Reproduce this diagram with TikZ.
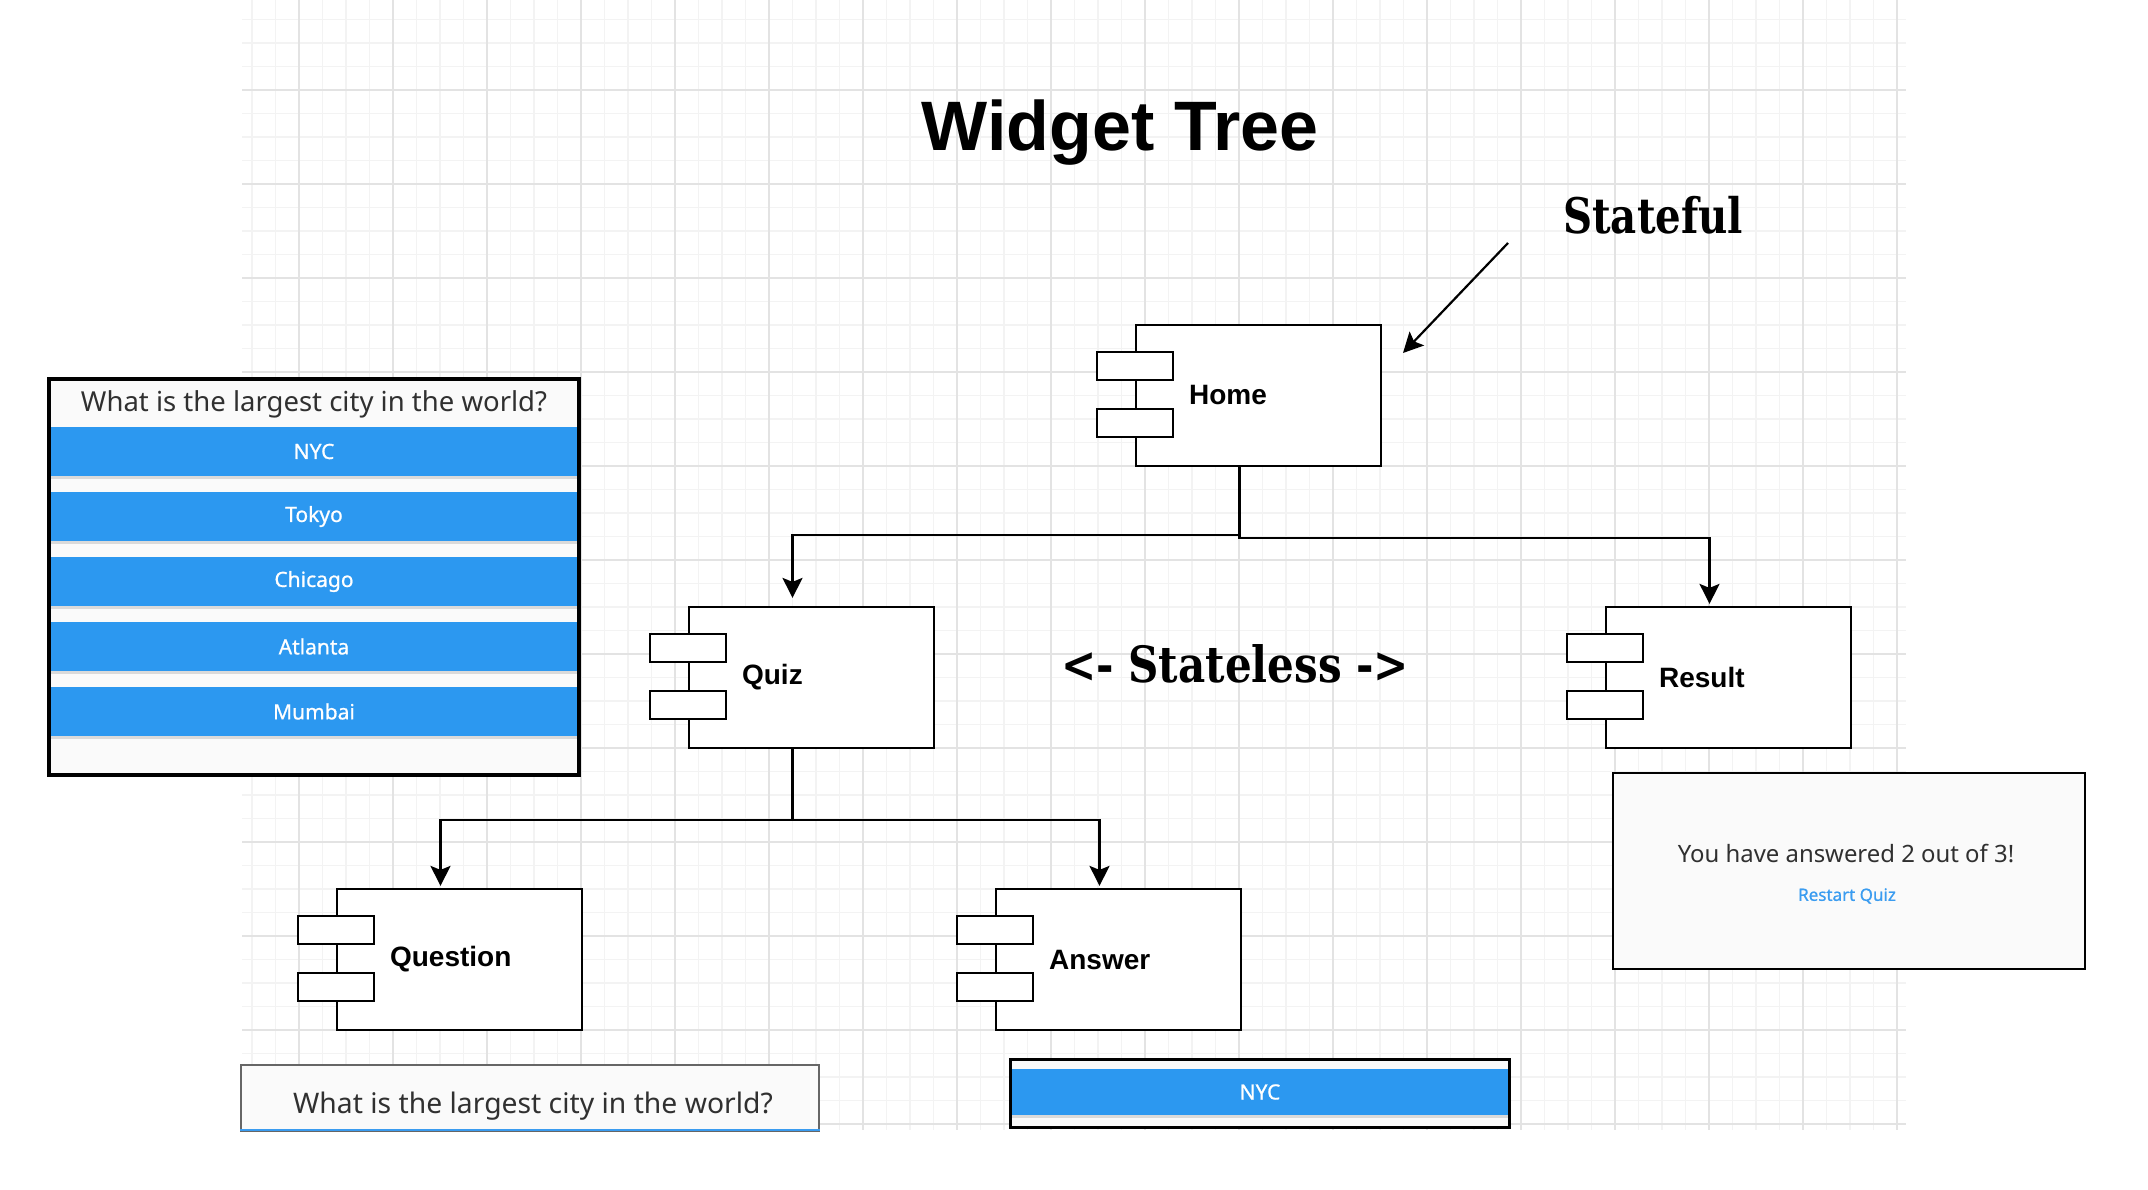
\documentclass[tikz,border=0pt]{standalone}
\usepackage{fontspec}
\setmainfont{Liberation Sans}
\newfontfamily\slabfont{DejaVu Serif}
\newfontfamily\uifont{Noto Sans}
\newfontfamily\uimedium{Noto Sans}[FakeBold=0.8]
\usetikzlibrary{arrows.meta,calc}
\definecolor{gridminor}{HTML}{F3F3F3}
\definecolor{gridmajor}{HTML}{E3E3E3}
\definecolor{barblue}{HTML}{2C98F0}
\definecolor{panelbg}{HTML}{FAFAFA}
\definecolor{uitext}{HTML}{303030}
\definecolor{linkblue}{HTML}{3A9CF0}
\definecolor{shadowgray}{HTML}{DADADA}
\definecolor{boxgray}{HTML}{666666}
\newcommand\compbox[4]{%
  \node[comp] (#1) at (#2,#3) {};
  \draw[port] ($(#1.north west)+(-38,28)$) rectangle ++(76,28);
  \draw[port] ($(#1.north west)+(-38,85)$) rectangle ++(76,28);
  \node[complabel] (#1-label) at ($(#1.west)+(54,0)$) {#4};
}
\begin{document}
\begin{tikzpicture}[x=1pt,y=-1pt,
  comp/.style={draw=black, line width=2.2pt, fill=white, minimum width=245pt, minimum height=141pt, inner sep=0pt},
  port/.style={draw=black, line width=2.2pt, fill=white},
  complabel/.style={font=\fontsize{28}{32}\selectfont\bfseries, anchor=west, inner sep=0pt},
  conn/.style={draw=black, line width=2.2pt, -{Stealth[length=20pt,width=20pt,inset=4pt]}},
  panel/.style={fill=panelbg, inner sep=0pt},
  bar/.style={fill=barblue, inner sep=0pt, text=white, font=\uimedium\fontsize{21}{24}\selectfont},
  uiq/.style={text=uitext, inner sep=0pt},
  slab/.style={inner sep=0pt, font=\slabfont\bfseries},
]
\useasboundingbox (0,0) rectangle (2148,1190);
\fill[white] (0,0) rectangle (2148,1190);
% grid
\foreach \i in {0,...,70} \draw[gridminor, line width=1.2pt] (252+23.5*\i,0) -- (252+23.5*\i,1130);
\foreach \i in {0,...,47} \draw[gridminor, line width=1.2pt] (242,19.5+23.5*\i) -- (1906,19.5+23.5*\i);
\foreach \i in {0,...,17} \draw[gridmajor, line width=1.5pt] (299+94*\i,0) -- (299+94*\i,1130);
\foreach \i in {0,...,11} \draw[gridmajor, line width=1.5pt] (242,90+94*\i) -- (1906,90+94*\i);

% title
\node[inner sep=0pt, anchor=base, font=\fontsize{70}{80}\selectfont\bfseries] (title) at (1120,151) {Widget Tree};
\node[slab, anchor=base west] (stateful) at (1563,234) {\fontsize{49}{56}\selectfont\resizebox{180pt}{\height}{Stateful}};
\node[slab, anchor=base west] (stateless) at (1061,682) {\fontsize{50}{58}\selectfont\resizebox{348pt}{\height}{<- Stateless ->}};

% components
\compbox{home}{1258.5}{395.5}{Home}
\compbox{quiz}{811.5}{677.5}{Quiz}
\compbox{result}{1728.5}{677.5}{Result}
\compbox{question}{459.5}{959.5}{Question}
\compbox{answer}{1118.5}{959.5}{Answer}

% connectors
\draw[conn, shorten >=8pt] ([xshift=-19pt]home.south) -- ++(0,68) -| ([xshift=-19pt]quiz.north);
\draw[conn, shorten >=2pt] ([xshift=-19pt]home.south) -- ++(0,71) -| ([xshift=-19pt]result.north);
\draw[conn, shorten >=2pt] ([xshift=-19pt]quiz.south) -- ++(0,71) -| ([xshift=-19pt]question.north);
\draw[conn, shorten >=2pt] ([xshift=-19pt]quiz.south) -- ++(0,71) -| ([xshift=-19pt]answer.north);
\coordinate (sftail) at (1508,243);
\coordinate (sftip) at (1403,353);
\draw[conn] (sftail) -- (sftip);

% left quiz panel
\node[panel, minimum width=530pt, minimum height=396pt] (qpanel) at (314,577) {};
\node[uiq, font=\uifont\fontsize{27.5}{31}\selectfont] (qptitle) at (314,404) {What is the largest city in the world?};
\foreach \n/\y/\t in {1/451.5/NYC,2/516.5/Tokyo,3/581.5/Chicago,4/646.5/Atlanta,5/711.5/Mumbai}{
  \node[bar, minimum width=528pt, minimum height=49pt] (bar\n) at (314,\y) {\t};
  \fill[shadowgray] (bar\n.south west) rectangle ++(528,3);
}
\draw[black, line width=4pt] (qpanel.north west) rectangle (qpanel.south east);

% question widget
\node[panel, draw=boxgray, line width=1.2pt, minimum width=578pt, minimum height=66pt] (qwidget) at (530,1098) {};
\draw[linkblue, line width=2pt] ([yshift=2pt]qwidget.south west) -- ([yshift=2pt]qwidget.south east);
\node[uiq, font=\uifont\fontsize{28.3}{32}\selectfont] (qwtext) at (533,1106) {What is the largest city in the world?};

% answer widget
\node[panel, minimum width=498pt, minimum height=67pt] (awidget) at (1260,1093.5) {};
\node[bar, minimum width=496pt, minimum height=46pt] (abar) at (1260,1092) {NYC};
\fill[shadowgray] (abar.south west) rectangle ++(496,3);
\draw[black, line width=3pt] (awidget.north west) rectangle (awidget.south east);

% result widget
\node[panel, draw=black, line width=2.5pt, minimum width=472pt, minimum height=196pt] (rwidget) at (1849,871) {};
\node[uiq, font=\uifont\fontsize{23.9}{27}\selectfont] (rtext) at (1846,854) {You have answered 2 out of 3!};
\node[text=linkblue, inner sep=0pt, font=\uimedium\fontsize{17}{20}\selectfont] (rlink) at (1847,896) {Restart Quiz};
\end{tikzpicture}
\end{document}
